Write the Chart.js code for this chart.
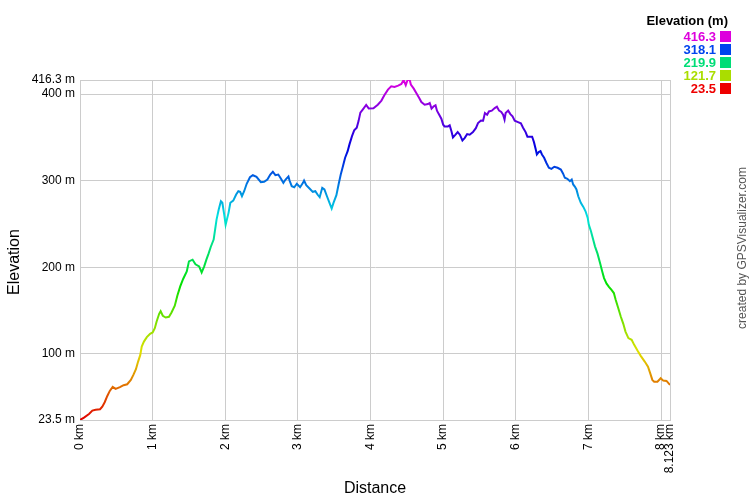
<!DOCTYPE html>
<html>
<head>
<meta charset="utf-8">
<script src="https://cdn.jsdelivr.net/npm/chart.js@4/dist/chart.umd.min.js"></script>
<style>
html,body{margin:0;padding:0;background:#fff;}
#wrap{position:relative;width:750px;height:500px;}
</style>
</head>
<body>
<div id="wrap"><canvas id="c" width="750" height="500"></canvas></div>
<script>
// ---- data ----
const distKm = [0,0.055,0.124,0.17,0.215,0.276,0.307,0.34,0.376,0.41,0.45,0.49,0.55,0.6,0.65,0.70,0.735,0.77,0.80,0.83,0.85,0.88,0.92,0.965,1.0,1.03,1.055,1.09,1.11,1.14,1.18,1.225,1.26,1.305,1.34,1.38,1.42,1.47,1.50,1.55,1.59,1.64,1.675,1.71,1.74,1.77,1.80,1.84,1.86,1.88,1.91,1.94,1.96,1.985,2.005,2.045,2.07,2.11,2.15,2.18,2.205,2.23,2.26,2.295,2.34,2.38,2.43,2.49,2.535,2.58,2.62,2.655,2.69,2.73,2.765,2.80,2.83,2.87,2.885,2.915,2.95,2.985,3.03,3.07,3.085,3.115,3.16,3.205,3.24,3.27,3.30,3.335,3.365,3.40,3.435,3.465,3.49,3.53,3.56,3.59,3.62,3.65,3.685,3.71,3.745,3.775,3.81,3.835,3.86,3.895,3.94,3.975,4.04,4.10,4.15,4.19,4.24,4.285,4.33,4.38,4.425,4.455,4.485,4.51,4.54,4.555,4.595,4.63,4.67,4.70,4.745,4.79,4.815,4.84,4.87,4.895,4.915,4.94,4.975,5.0,5.02,5.065,5.09,5.115,5.135,5.17,5.20,5.23,5.265,5.295,5.33,5.365,5.41,5.45,5.48,5.52,5.55,5.575,5.605,5.63,5.67,5.71,5.74,5.77,5.80,5.825,5.845,5.86,5.895,5.925,5.955,5.985,6.03,6.07,6.10,6.135,6.16,6.225,6.25,6.275,6.29,6.315,6.34,6.36,6.39,6.42,6.455,6.49,6.53,6.575,6.62,6.65,6.675,6.71,6.745,6.77,6.79,6.815,6.835,6.86,6.895,6.93,6.96,6.99,7.005,7.035,7.065,7.09,7.125,7.16,7.19,7.215,7.25,7.285,7.315,7.35,7.375,7.41,7.445,7.48,7.51,7.55,7.595,7.63,7.675,7.72,7.775,7.82,7.85,7.88,7.905,7.95,7.995,8.03,8.075,8.123];
const elevM = [23.5,26.2,30.4,34.3,35.4,35.9,38.9,44,51.3,57.1,61.7,59.4,61.4,63.7,64.8,69.8,75.6,82.2,91,98.7,108.4,114.1,119.2,123.1,124.6,129.6,137.3,146.2,149.3,143.9,141.9,142.7,147.7,155.5,167,177.8,186.4,195.2,206.8,208.7,203.3,201,194,201,208.7,215.7,223.4,231.9,243.5,255,266.6,276.2,274.4,261,249.2,262.8,274.4,277,284,287.8,287.1,282,287.8,296.4,304,306.3,304.5,298.2,298.7,301.3,307.1,310.3,306.3,307.1,302.5,297.5,301.3,304.8,300.2,293.6,292.4,296.4,292.4,297.5,300.2,294.8,290.9,287.1,287.8,284,280.9,291.7,289.8,282,274.4,267.8,274.4,283.2,295.6,307.1,316.7,326.5,334.1,341.9,351.5,358.1,361.2,368.8,378.6,382.4,387.4,383.5,383.7,387.8,392.5,398.6,405.2,409,408.2,409.8,411.7,416.3,410.2,416.3,416.3,411,406.3,401.3,395.5,390.8,387.8,388.5,389.7,383.2,385.8,387,380.9,376.9,371.6,364.7,362.7,362.7,363.9,356.9,350,353.1,356.1,353.1,346.5,349.2,353.8,353.1,356.1,360.7,366.5,369.6,369.3,378.1,376.2,380,380.9,383.9,385.5,380.9,379.3,376.2,370.5,378.1,380.9,376.9,374.3,369.3,367.7,366.2,361.2,356.1,350.8,350.8,344.5,336.1,330.3,333,334.1,330.3,326.5,320.7,314.9,313.7,316.1,314.9,312.9,308.3,303.3,302.2,299.4,301.3,295.6,292.9,289.8,282,274.4,269.7,264.6,257,249.2,241.5,231.9,224.1,215.7,204.9,195.2,187.5,181,177.1,174,170.2,162.4,152.8,143.1,134.6,125.7,118.1,116.1,110.3,103.7,97.6,91,85.2,77.6,69.8,67.8,67.8,71.8,69,68.6,64];
const xTickValues = [0,1,2,3,4,5,6,7,8,8.123];
const yTickValues = [23.5,100,200,300,400,416.3];
const legendTitle = "Elevation (m)";
const legendValues = ["416.3","318.1","219.9","121.7","23.5"];
const legendColors = ["#DD00DD","#0044EE","#00DD77","#AADD00","#EE0000"];
const xTitle = "Distance";
const yTitle = "Elevation";
const credit = "created by GPSVisualizer.com";

const points = distKm.map((d,i)=>({x:d,y:elevM[i]}));
const FONT = "'Liberation Sans', Arial, sans-serif";

function gradientFor(chart){
  const a = chart.chartArea;
  if(!a) return '#f00';
  const g = chart.ctx.createLinearGradient(0,a.bottom,0,a.top);
  for(let i=0;i<=10;i++){
    g.addColorStop(i/10,'hsl('+(i*30)+',100%,44%)');
  }
  return g;
}

const extras = {
  id:'extras',
  afterDraw(chart){
    const ctx = chart.ctx;
    const a = chart.chartArea;
    ctx.save();
    ctx.fillStyle = '#000';
    ctx.font = '16px ' + FONT;
    ctx.textAlign = 'center';
    ctx.textBaseline = 'middle';
    ctx.fillText(xTitle,(a.left+a.right)/2,489);
    ctx.save();
    ctx.translate(15,(a.top+a.bottom)/2+12);
    ctx.rotate(-Math.PI/2);
    ctx.fillText(yTitle,0,0);
    ctx.restore();
    // legend
    ctx.font = 'bold 13px ' + FONT;
    ctx.textAlign = 'right';
    ctx.fillText(legendTitle,728,21);
    for(let i=0;i<legendValues.length;i++){
      const cy = 36 + i*13;
      ctx.fillStyle = legendColors[i];
      ctx.fillText(legendValues[i],716,cy+1);
      ctx.fillRect(720,cy-5,11,11);
    }
    // credit
    ctx.fillStyle = '#555';
    ctx.font = '12px ' + FONT;
    ctx.textAlign = 'center';
    ctx.save();
    ctx.translate(743,248);
    ctx.rotate(-Math.PI/2);
    ctx.fillText(credit,0,0);
    ctx.restore();
    ctx.restore();
  }
};

new Chart(document.getElementById('c'),{
  type:'line',
  data:{datasets:[{
    data:points,
    borderColor:(c)=>gradientFor(c.chart),
    borderWidth:2,
    pointRadius:0,
    tension:0,
    fill:false
  }]},
  plugins:[extras],
  options:{
    responsive:false,
    animation:false,
    events:[],
    layout:{padding:{left:0,right:80,top:80,bottom:0}},
    plugins:{legend:{display:false},tooltip:{enabled:false}},
    scales:{
      x:{
        type:'linear',min:0,max:8.123,
        afterBuildTicks:(s)=>{s.ticks = xTickValues.map(v=>({value:v}));},
        afterFit:(s)=>{s.height = 80;},
        grid:{color:'#cccccc',lineWidth:1,drawTicks:false},
        border:{color:'#cccccc'},
        ticks:{
          autoSkip:false,minRotation:90,maxRotation:90,padding:4,
          color:'#000',font:{family:FONT,size:12},
          callback:(v)=>v+' km'
        }
      },
      y:{
        type:'linear',min:23.5,max:416.3,
        afterBuildTicks:(s)=>{s.ticks = yTickValues.map(v=>({value:v}));},
        afterFit:(s)=>{s.width = 80;},
        grid:{color:'#cccccc',lineWidth:1,drawTicks:false},
        border:{color:'#cccccc'},
        ticks:{
          autoSkip:false,padding:5,
          color:'#000',font:{family:FONT,size:12},
          callback:(v)=>v+' m'
        }
      }
    }
  }
});
</script>
</body>
</html>
